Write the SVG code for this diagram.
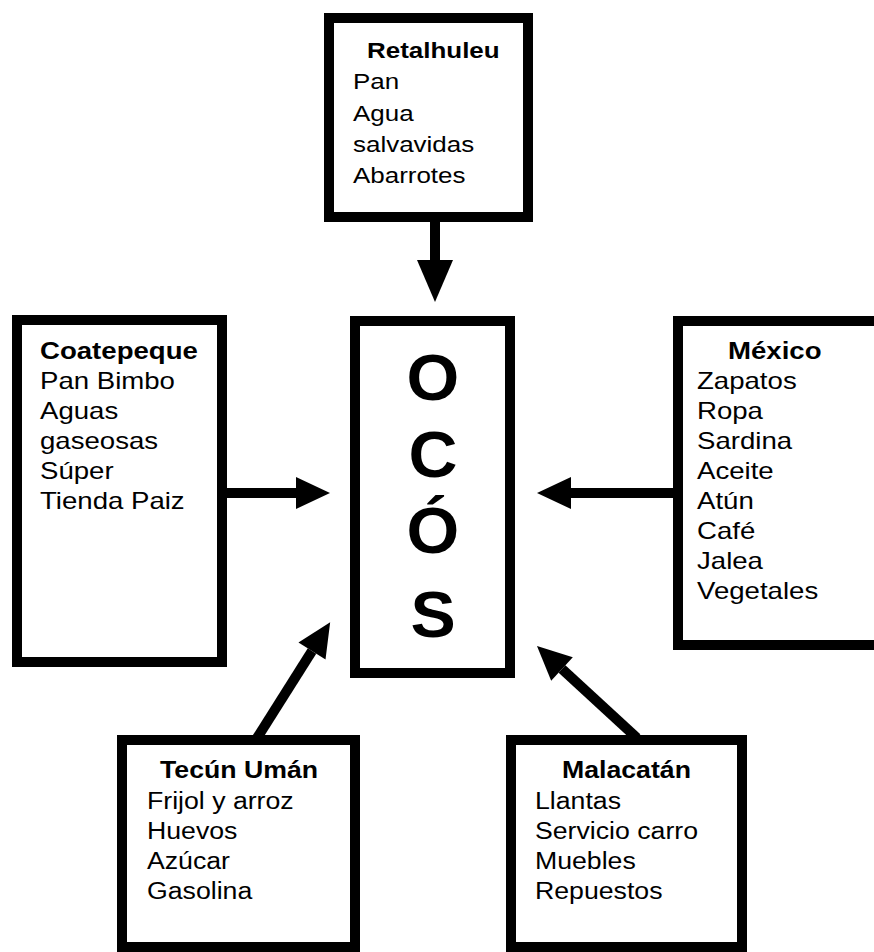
<svg xmlns="http://www.w3.org/2000/svg" width="874" height="952" viewBox="0 0 874 952">
<style>
.box{fill:#fff;stroke:#000;stroke-width:10}
.t{font-family:"Liberation Sans",Arial,sans-serif;fill:#000}
.b{font-weight:bold}
.s22{font-size:22px}
.s23{font-size:23px}
.big{font-family:"Liberation Sans",Arial,sans-serif;font-weight:bold;font-size:64px;fill:#000;text-anchor:middle}
.conn{stroke:#000;stroke-width:10;fill:none}
</style>
<defs>
<marker id="ah" markerUnits="userSpaceOnUse" markerWidth="40" markerHeight="40" viewBox="0 -20 40 40" refX="0" refY="0" orient="auto" overflow="visible">
<path d="M0,-16 L34,0 L0,16 z" fill="#000"/>
</marker>
<marker id="ahL" markerUnits="userSpaceOnUse" markerWidth="46" markerHeight="46" viewBox="0 -23 46 46" refX="0" refY="0" orient="auto" overflow="visible">
<path d="M0,-18 L42,0 L0,18 z" fill="#000"/>
</marker>
</defs>
<rect width="874" height="952" fill="#fff"/>
<g id="connectors">
<line class="conn" x1="435" y1="220" x2="435" y2="260" marker-end="url(#ahL)"/>
<line class="conn" x1="224" y1="493" x2="296" y2="493" marker-end="url(#ah)"/>
<line class="conn" x1="676" y1="493" x2="571" y2="493" marker-end="url(#ah)"/>
<line class="conn" x1="257" y1="738" x2="312" y2="651" marker-end="url(#ah)"/>
<line class="conn" x1="637" y1="738" x2="562" y2="669" marker-end="url(#ah)"/>
</g>
<g id="retalhuleu">
<rect class="box" x="329" y="18" width="199" height="199"/>
<text class="t b s22" transform="translate(367,58) scale(1.18,1)">Retalhuleu</text>
<text class="t s22" transform="translate(353,89) scale(1.18,1)"><tspan x="0" y="0">Pan</tspan><tspan x="0" y="32">Agua</tspan><tspan x="0" y="63">salvavidas</tspan><tspan x="0" y="94">Abarrotes</tspan></text>
</g>
<g id="coatepeque">
<rect class="box" x="17" y="320" width="205" height="342"/>
<text class="t b s23" transform="translate(40,359) scale(1.2,1)">Coatepeque</text>
<text class="t s23" transform="translate(40,389) scale(1.2,1)"><tspan x="0" y="0">Pan Bimbo</tspan><tspan x="0" y="30">Aguas</tspan><tspan x="0" y="60">gaseosas</tspan><tspan x="0" y="90">Súper</tspan><tspan x="0" y="120">Tienda Paiz</tspan></text>
</g>
<g id="ocos">
<rect class="box" x="355" y="321" width="155" height="352"/>
<text class="big" transform="translate(433,400) scale(1.06,1)">O</text>
<text class="big" transform="translate(433,477) scale(1.06,1)">C</text>
<text class="big" transform="translate(433,553) scale(1.06,1)">Ó</text>
<text class="big" transform="translate(433,637) scale(1.06,1)">S</text>
</g>
<g id="mexico">
<rect class="box" x="678" y="321" width="220" height="324"/>
<text class="t b s23" transform="translate(728,359) scale(1.2,1)">México</text>
<text class="t s23" transform="translate(697,389) scale(1.2,1)"><tspan x="0" y="0">Zapatos</tspan><tspan x="0" y="30">Ropa</tspan><tspan x="0" y="60">Sardina</tspan><tspan x="0" y="90">Aceite</tspan><tspan x="0" y="120">Atún</tspan><tspan x="0" y="150">Café</tspan><tspan x="0" y="180">Jalea</tspan><tspan x="0" y="210">Vegetales</tspan></text>
</g>
<g id="tecun-uman">
<rect class="box" x="122" y="740" width="233" height="207"/>
<text class="t b s23" transform="translate(160,778) scale(1.16,1)">Tecún Umán</text>
<text class="t s23" transform="translate(147,809) scale(1.16,1)"><tspan x="0" y="0">Frijol y arroz</tspan><tspan x="0" y="30">Huevos</tspan><tspan x="0" y="60">Azúcar</tspan><tspan x="0" y="90">Gasolina</tspan></text>
</g>
<g id="malacatan">
<rect class="box" x="511" y="740" width="231" height="207"/>
<text class="t b s23" transform="translate(562,778) scale(1.16,1)">Malacatán</text>
<text class="t s23" transform="translate(535,809) scale(1.16,1)"><tspan x="0" y="0">Llantas</tspan><tspan x="0" y="30">Servicio carro</tspan><tspan x="0" y="60">Muebles</tspan><tspan x="0" y="90">Repuestos</tspan></text>
</g>
</svg>
